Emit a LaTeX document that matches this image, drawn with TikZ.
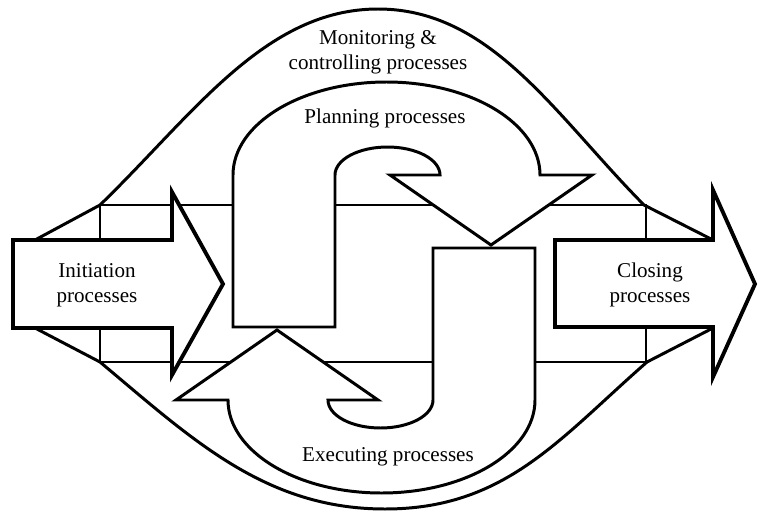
\documentclass[tikz,border=0pt]{standalone}
\usepackage{fontspec}
\setmainfont{Liberation Serif}
\usetikzlibrary{calc}
\def\hookarrow[#1]{\draw[#1] (233, 185) -- (233, 337) arc[start angle=180, end angle=0, x radius=153.5, y radius=93] -- (592, 337) -- (491, 267) -- (390, 337) -- (440, 337) arc[start angle=0, end angle=180, x radius=52.5, y radius=28] -- (335, 185) -- cycle;}

\begin{document}
\begin{tikzpicture}[x=0.02cm, y=0.02cm,
		band/.style={line width=0.6pt},
		lens/.style={line width=1.7pt, line join=round},
		bigarrow/.style={line width=2.2pt, fill=white},
		hook/.style={line width=1.7pt, fill=white},
		proctext/.style={font=\fontsize{12}{14.5}\selectfont, align=center}]
			%%%%% START %%%%%
			\useasboundingbox (0, 0) rectangle (761, 512);
			
			\draw[band] (100, 150) rectangle (646, 307);
			
			\draw[lens] (35, 272) -- (100, 307) .. controls (193, 397) and (265, 503) .. (378, 503) .. controls (491, 503) and (555, 397) .. (644, 307) -- (713, 272);
			\draw[lens] (35, 184) -- (100, 150) .. controls (192, 73) and (265, 3) .. (385, 3) .. controls (505, 3) and (559, 73) .. (647, 150) -- (713, 184);
			
			\hookarrow[hook]
			\hookarrow[hook, rotate around={180:(384, 224.5)}]
			
			\draw[bigarrow] (13, 184) -- (13, 272) -- (172, 272) -- (172, 320) -- (223, 228) -- (172, 137) -- (172, 184) -- cycle;
			\draw[bigarrow] (555, 185) -- (555, 272) -- (713, 272) -- (713, 322) -- (755, 228) -- (713, 135) -- (713, 185) -- cycle;
			
			\node[proctext] (monitoring) at (378, 460) {Monitoring \&\\controlling processes};
			\node[proctext] (planning) at (385, 394) {Planning processes};
			\node[proctext] (executing) at (388, 55) {Executing processes};
			\node[proctext] (initiation) at (97, 227) {Initiation\\processes};
			\node[proctext] (closing) at (650, 227) {Closing\\processes};
			
			%%%%% END %%%%%
\end{tikzpicture}
\end{document}
